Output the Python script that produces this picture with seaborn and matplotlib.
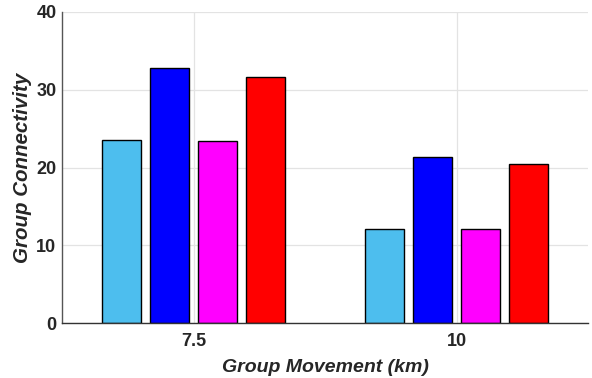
import matplotlib
matplotlib.use("Agg")
import matplotlib.pyplot as plt
import seaborn as sns
import pandas as pd

categories = ["7.5", "10"]
series_names = ["S1", "S2", "S3", "S4"]
s1 = [23.5, 12.05]
s2 = [32.8, 21.4]
s3 = [23.4, 12.05]
s4 = [31.6, 20.45]
colors = ["#4DBEEE", "#0000FF", "#FF00FF", "#FF0000"]

rows = []
for name, vals in zip(series_names, [s1, s2, s3, s4]):
    for c, v in zip(categories, vals):
        rows.append({"cat": c, "series": name, "value": v})
df = pd.DataFrame(rows)

sns.set_theme(style="whitegrid")
plt.rcParams['font.family'] = ['Liberation Sans', 'DejaVu Sans']

fig = plt.figure(figsize=(5.92, 3.78), dpi=100)
ax = fig.add_axes([62 / 592, 55 / 378, 526 / 592, 311 / 378])
sns.barplot(data=df, x="cat", y="value", hue="series", order=categories,
            hue_order=series_names, palette=colors, width=0.73, gap=0.208,
            edgecolor="black", linewidth=1.0, legend=False, ax=ax, errorbar=None,
            saturation=1)

ax.set_xlim(-0.5, 1.5)
ax.set_ylim(0, 40)
ax.set_yticks([0, 10, 20, 30, 40])
ax.grid(True, color="#e3e3e3", linewidth=0.9)
ax.set_axisbelow(True)
for s in ["top", "right"]:
    ax.spines[s].set_visible(False)
ax.spines["left"].set_color("#555555")
ax.spines["bottom"].set_color("#333333")
ax.spines["left"].set_linewidth(1.0)
ax.spines["bottom"].set_linewidth(1.0)
ax.tick_params(axis="both", direction="in", length=4, color="#555555",
               labelsize=13, labelcolor="#262626")
ax.tick_params(axis="x", pad=7)
ax.tick_params(axis="y", pad=4)
for lab in ax.get_yticklabels():
    lab.set_fontweight("bold")
for lab in ax.get_xticklabels():
    lab.set_fontweight("bold")
ax.set_xlabel("Group Movement (km)", fontsize=14, fontweight="bold",
              fontstyle="italic", color="#262626", labelpad=7)
ax.set_ylabel("Group Connectivity", fontsize=14.8, fontweight="bold",
              fontstyle="italic", color="#262626", labelpad=3)

fig.savefig("out.png", dpi=100)
